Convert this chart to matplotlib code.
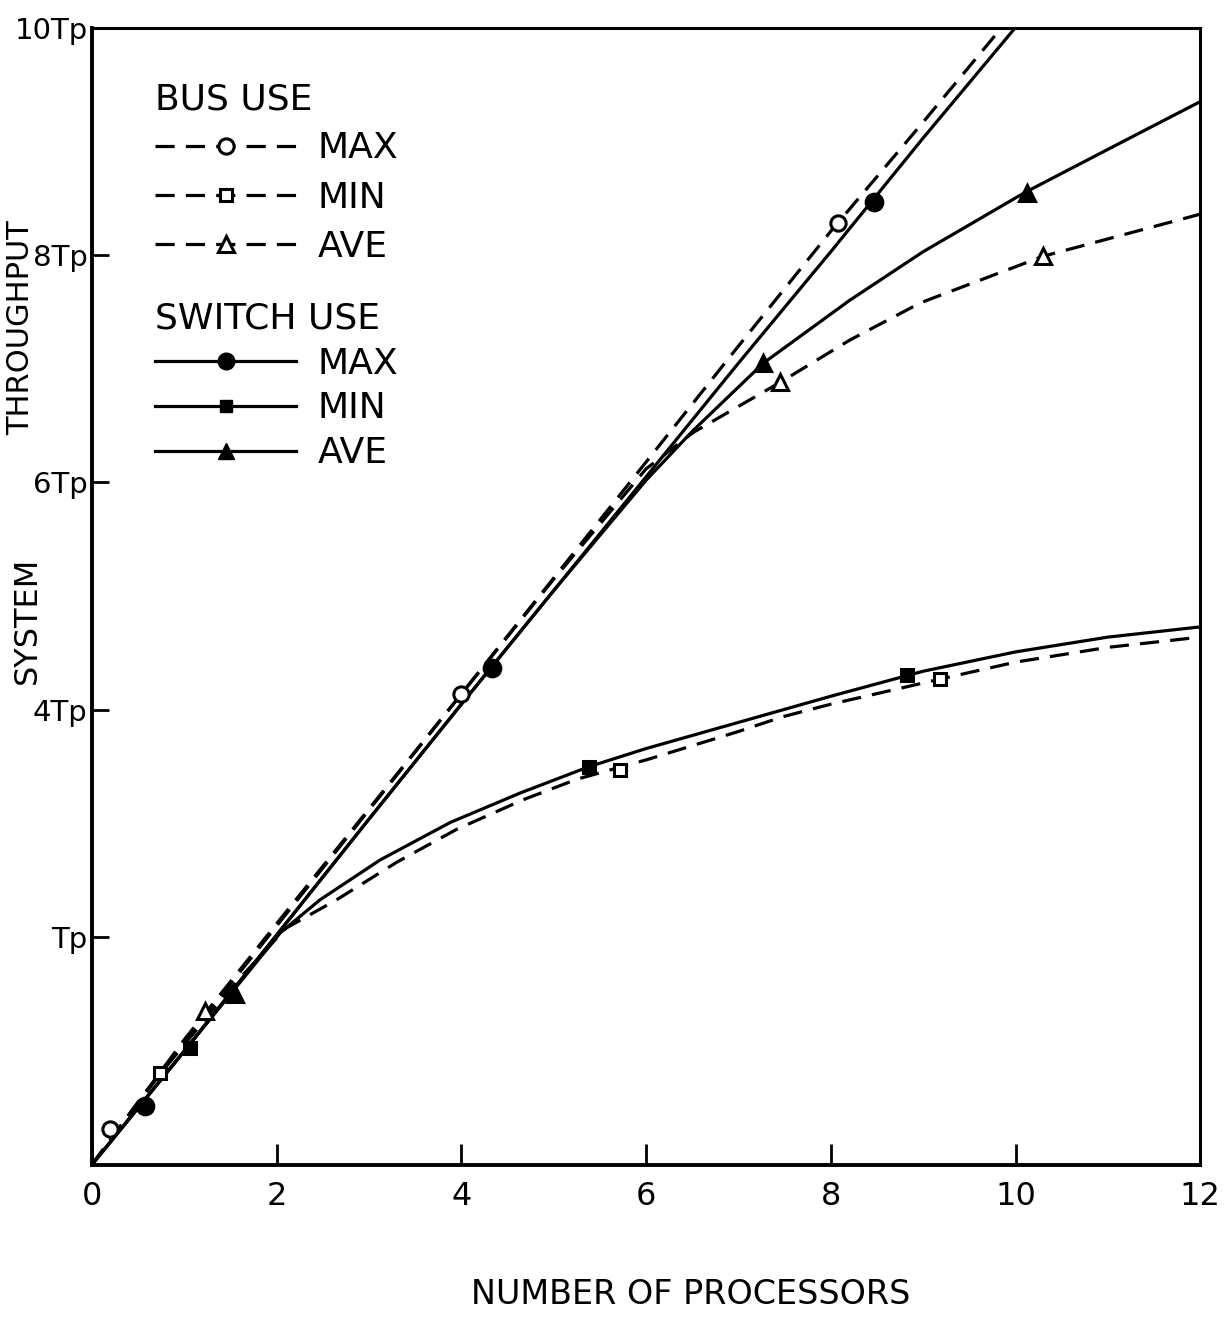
import matplotlib
matplotlib.use("Agg")
import matplotlib.pyplot as plt
from matplotlib.lines import Line2D

plt.rcParams['font.family'] = ['DejaVu Sans']

# curves (x = processors, y = throughput in Tp units)
bus_max_x = [0, 0.5, 1, 2, 3, 4, 5, 6, 7, 8, 9, 9.9]
bus_max_y = [0, 0.55, 1.08, 2.1, 3.12, 4.14, 5.16, 6.18, 7.2, 8.21, 9.17, 10.05]
sw_max_x = [0, 1, 2, 3, 4, 5, 6, 7, 8, 9, 10.1]
sw_max_y = [0, 1.0, 2.02, 3.04, 4.05, 5.05, 6.05, 7.05, 8.03, 9.03, 10.1]

bus_min_x = [0, 0.74, 1.5, 2.1, 2.65, 3.3, 3.95, 4.67, 5.25, 6, 7, 7.48, 8, 9.18, 10, 11, 12]
bus_min_y = [0, 0.8, 1.55, 2.08, 2.33, 2.66, 2.95, 3.21, 3.39, 3.56, 3.81, 3.94, 4.05, 4.27, 4.42, 4.55, 4.64]
sw_min_x = [0, 1, 2.04, 2.47, 3.12, 3.88, 4.64, 5.38, 6, 7, 8, 9, 10, 11, 12]
sw_min_y = [0, 1.0, 2.04, 2.33, 2.68, 3.01, 3.27, 3.5, 3.66, 3.89, 4.12, 4.34, 4.51, 4.64, 4.73]

bus_ave_x = [0, 1, 2, 3, 4, 5, 6, 6.51, 7.45, 8.2, 8.97, 10.3, 12]
bus_ave_y = [0, 1.1, 2.12, 3.13, 4.14, 5.15, 6.12, 6.44, 6.88, 7.25, 7.58, 7.99, 8.36]
sw_ave_x = [0, 1, 2, 3, 4, 5, 6, 6.5, 7.27, 8.2, 9, 10.1, 11, 12]
sw_ave_y = [0, 1.0, 2.02, 3.04, 4.05, 5.05, 6.02, 6.45, 7.05, 7.6, 8.03, 8.55, 8.93, 9.35]

# marker positions
bus_max_mx, bus_max_my = [0.2, 4.0, 8.08], [0.31, 4.14, 8.28]
sw_max_mx, sw_max_my = [0.57, 4.33, 8.47], [0.52, 4.37, 8.47]
bus_min_mx, bus_min_my = [0.74, 5.72, 9.18], [0.81, 3.47, 4.27]
sw_min_mx, sw_min_my = [1.06, 5.38, 8.82], [1.03, 3.5, 4.31]
bus_ave_mx, bus_ave_my = [1.22, 7.45, 10.3], [1.35, 6.88, 7.99]
sw_ave_mx, sw_ave_my = [1.55, 7.27, 10.12], [1.5, 7.05, 8.55]

xticks = [0, 2, 4, 6, 8, 10, 12]
yticks = [2, 4, 6, 8, 10]
ytick_labels = ['Tp', '4Tp', '6Tp', '8Tp', '10Tp']

fig = plt.figure(figsize=(12.26, 13.19), dpi=100)
ax = fig.add_axes([0.075, 0.117, 0.904, 0.862])

lw = 2.3
dash = (6, 3.5)
ax.plot(bus_max_x, bus_max_y, color='k', lw=lw, dashes=dash)
ax.plot(sw_max_x, sw_max_y, color='k', lw=lw)
ax.plot(bus_min_x, bus_min_y, color='k', lw=lw, dashes=dash)
ax.plot(sw_min_x, sw_min_y, color='k', lw=lw)
ax.plot(bus_ave_x, bus_ave_y, color='k', lw=lw, dashes=dash)
ax.plot(sw_ave_x, sw_ave_y, color='k', lw=lw)

mk = dict(ls='none', mec='k', mew=2.2)
ax.plot(bus_max_mx, bus_max_my, marker='o', ms=11, mfc='white', **mk)
ax.plot(sw_max_mx, sw_max_my, marker='o', ms=12, mfc='k', **mk)
ax.plot(bus_min_mx, bus_min_my, marker='s', ms=9, mfc='white', **mk)
ax.plot(sw_min_mx, sw_min_my, marker='s', ms=9, mfc='k', **mk)
ax.plot(bus_ave_mx, bus_ave_my, marker='^', ms=11, mfc='white', **mk)
ax.plot(sw_ave_mx, sw_ave_my, marker='^', ms=11, mfc='k', **mk)

ax.set_xlim(0, 12)
ax.set_ylim(0, 10)
ax.set_xticks(xticks)
ax.set_xticklabels([str(v) for v in xticks], fontsize=23)
ax.set_yticks(yticks)
ax.set_yticklabels(ytick_labels, fontsize=21)
ax.tick_params(axis='x', direction='in', length=15, width=2, pad=12)
ax.tick_params(axis='y', direction='in', length=12, width=2, pad=3)
for s in ['left', 'bottom']:
    ax.spines[s].set_linewidth(2.8)
for s in ['top', 'right']:
    ax.spines[s].set_linewidth(2.2)

ax.set_xlabel('NUMBER OF PROCESSORS', fontsize=24)
ax.xaxis.set_label_coords(0.54, -0.1)
ax.text(-0.058, 0.479, 'SYSTEM', rotation=90, ha='center', va='center',
        transform=ax.transAxes, fontsize=23)
ax.text(-0.064, 0.736, 'THROUGHPUT', rotation=90, ha='center', va='center',
        transform=ax.transAxes, fontsize=22)

leg_kw = dict(loc='upper left', frameon=False, fontsize=26, title_fontsize=26,
              handlelength=3.9, handletextpad=0.6,
              borderpad=0, borderaxespad=0, alignment='left')
bus_handles = [
    Line2D([], [], color='k', lw=lw, dashes=dash, marker='o', ms=11, mfc='white', mec='k', mew=2.2),
    Line2D([], [], color='k', lw=lw, dashes=dash, marker='s', ms=9, mfc='white', mec='k', mew=2.2),
    Line2D([], [], color='k', lw=lw, dashes=dash, marker='^', ms=11, mfc='white', mec='k', mew=2.2),
]
sw_handles = [
    Line2D([], [], color='k', lw=lw, marker='o', ms=12, mfc='k', mec='k'),
    Line2D([], [], color='k', lw=lw, marker='s', ms=9, mfc='k', mec='k'),
    Line2D([], [], color='k', lw=lw, marker='^', ms=11, mfc='k', mec='k'),
]
leg1 = ax.legend(bus_handles, ['MAX', 'MIN', 'AVE'], title='BUS USE',
                 bbox_to_anchor=(0.057, 0.952), labelspacing=0.42, **leg_kw)
ax.add_artist(leg1)
ax.legend(sw_handles, ['MAX', 'MIN', 'AVE'], title='SWITCH USE',
          bbox_to_anchor=(0.057, 0.759), labelspacing=0.3, **leg_kw)

fig.savefig('out.png', dpi=100)
